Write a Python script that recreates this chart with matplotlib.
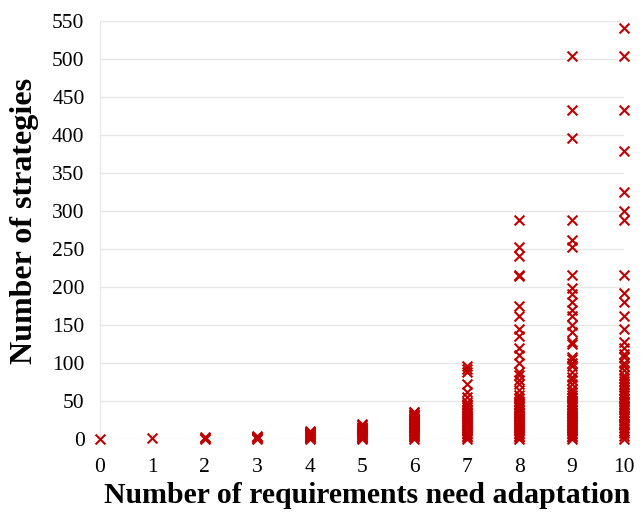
import matplotlib as mpl
mpl.use('Agg')
import matplotlib.pyplot as plt

# number of strategies observed for each count of requirements needing adaptation
req0 = [0]
req1 = [1]
req2 = [0, 1, 2]
req3 = [0, 1, 2, 3, 4]
req4 = [0, 1, 2, 3, 4, 5, 6, 7, 8, 9, 10]
req5 = [0, 1, 2, 3, 4, 5, 6, 7, 8, 9, 10, 11, 12, 13, 14, 15, 16, 18, 20]
req6 = [0, 2, 4, 5, 6, 8, 9, 10, 12, 14, 15, 16, 18, 20, 21, 22, 24, 25,
        26, 27, 28, 30, 32, 33, 35, 36]
req7 = [0, 2, 4, 6, 8, 10, 12, 14, 16, 18, 20, 22, 24, 26, 28, 30, 32, 34,
        36, 38, 40, 42, 44, 46, 48, 55, 62, 72, 88, 92, 96]
req8 = [0, 2, 4, 6, 8, 10, 12, 14, 16, 18, 20, 22, 24, 26, 28, 30, 32, 34,
        36, 38, 40, 42, 44, 46, 48, 50, 54, 58, 64, 72, 78, 84, 88, 100,
        110, 120, 135, 145, 162, 175, 214, 216, 240, 252, 288]
req9 = [0, 2, 4, 6, 8, 10, 12, 14, 16, 18, 20, 22, 24, 26, 28, 30, 32, 34,
        36, 38, 40, 42, 44, 46, 48, 50, 54, 58, 62, 66, 72, 78, 82, 88,
        96, 100, 105, 108, 125, 128, 140, 150, 162, 170, 180, 190, 198,
        216, 252, 262, 288, 396, 432, 504]
req10 = [0, 4, 8, 10, 14, 18, 20, 24, 27, 30, 32, 36, 40, 42, 45, 48, 52,
         54, 58, 60, 64, 68, 72, 76, 80, 84, 90, 96, 100, 108, 112, 120,
         128, 144, 162, 180, 192, 216, 288, 300, 324, 378, 432, 504, 540]

columns = [req0, req1, req2, req3, req4, req5, req6, req7, req8, req9, req10]

xs = []
ys = []
for n, vals in enumerate(columns):
    xs += [n] * len(vals)
    ys += vals

plt.rcParams['font.family'] = ['Liberation Serif', 'DejaVu Serif']

fig = plt.figure(figsize=(6.44, 5.14), dpi=100)
ax = fig.add_axes([0.155, 0.146, 0.814, 0.814])
ax.scatter(xs, ys, marker='x', s=50, color='#C00000', linewidths=1.5,
           clip_on=False, zorder=3)

ax.set_xlim(0, 10)
ax.set_ylim(0, 550)
ax.set_xticks(range(0, 11))
ax.set_yticks(range(0, 551, 50))
ax.tick_params(length=0, labelsize=15.5, colors='#000000')
ax.tick_params(axis='x', pad=14)
ax.tick_params(axis='y', pad=11)
ax.yaxis.grid(True, color='#e6e6e6', linewidth=1)
ax.set_axisbelow(True)
for side in ['top', 'right', 'bottom']:
    ax.spines[side].set_visible(False)
ax.spines['left'].set_color('#e6e6e6')

ax.set_xlabel('Number of requirements need adaptation', fontsize=21.4,
              fontweight='bold')
ax.set_ylabel('Number of strategies', fontsize=23, fontweight='bold')
ax.xaxis.set_label_coords(0.51, -0.104)
ax.yaxis.set_label_coords(-0.116, 0.52)

fig.savefig('out.png', dpi=100)
